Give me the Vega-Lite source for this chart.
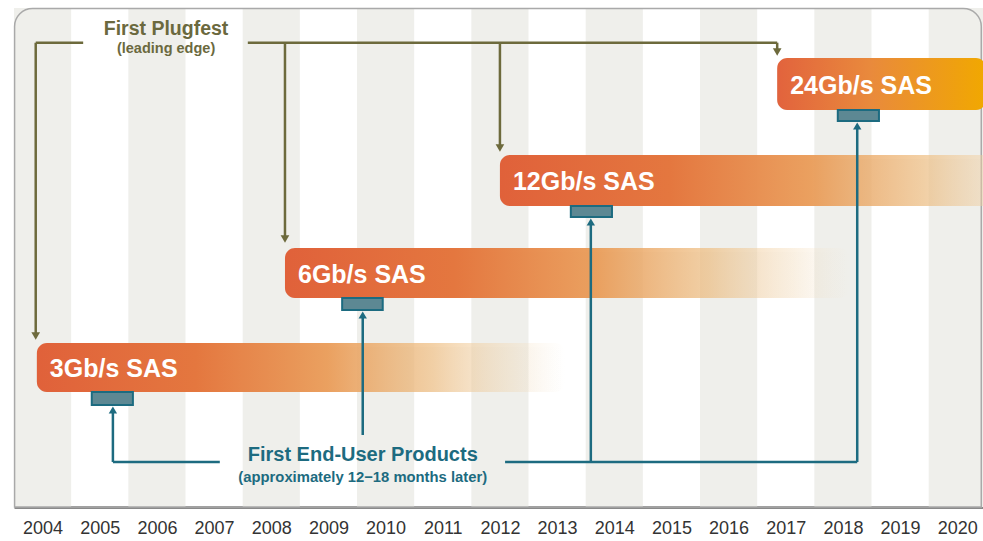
{
  "$schema": "https://vega.github.io/schema/vega-lite/v6.json",
  "width": 969,
  "height": 499,
  "autosize": {"type": "none"},
  "padding": {"left": 14, "top": 8, "right": 0, "bottom": 34},
  "background": "white",
  "config": {"view": {"stroke": null}, "font": "Liberation Sans"},
  "datasets": {
    "stripes": [
      {"year": 2004, "from": 2003.5, "to": 2004.5},
      {"year": 2006, "from": 2005.5, "to": 2006.5},
      {"year": 2008, "from": 2007.5, "to": 2008.5},
      {"year": 2010, "from": 2009.5, "to": 2010.5},
      {"year": 2012, "from": 2011.5, "to": 2012.5},
      {"year": 2014, "from": 2013.5, "to": 2014.5},
      {"year": 2016, "from": 2015.5, "to": 2016.5},
      {"year": 2018, "from": 2017.5, "to": 2018.5},
      {"year": 2020, "from": 2019.5, "to": 2020.5}
    ],
    "fading": [
      {"name": "3Gb/s SAS", "start": 2003.9, "end": 2013.14, "top": 335, "bottom": 384, "mid": 361},
      {"name": "6Gb/s SAS", "start": 2008.24, "end": 2018.12, "top": 240, "bottom": 290, "mid": 267},
      {"name": "12Gb/s SAS", "start": 2012.0, "end": 2021.9, "top": 147, "bottom": 198, "mid": 174}
    ],
    "newest": [
      {"name": "24Gb/s SAS", "start": 2016.85, "end": 2020.5, "top": 50, "bottom": 102, "mid": 78}
    ],
    "tabs": [
      {"speed": "3Gb/s", "start": 2004.86, "end": 2005.58, "top": 384, "bottom": 397},
      {"speed": "6Gb/s", "start": 2009.24, "end": 2009.95, "top": 290, "bottom": 302},
      {"speed": "12Gb/s", "start": 2013.24, "end": 2013.96, "top": 198, "bottom": 209},
      {"speed": "24Gb/s", "start": 2017.91, "end": 2018.63, "top": 102, "bottom": 113}
    ],
    "olive": [
      {"x0": 2003.88, "x1": 2004.71, "y0": 34.7, "y1": 34.7},
      {"x0": 2007.59, "x1": 2016.85, "y0": 34.7, "y1": 34.7},
      {"x0": 2003.88, "x1": 2003.88, "y0": 34.7, "y1": 326},
      {"x0": 2008.24, "x1": 2008.24, "y0": 34.7, "y1": 229},
      {"x0": 2012.0, "x1": 2012.0, "y0": 34.7, "y1": 138},
      {"x0": 2016.85, "x1": 2016.85, "y0": 34.7, "y1": 42}
    ],
    "oliveHeads": [
      {"x": 2003.88, "y": 328},
      {"x": 2008.24, "y": 231},
      {"x": 2012.0, "y": 140},
      {"x": 2016.85, "y": 44}
    ],
    "teal": [
      {"x0": 2005.23, "x1": 2007.1, "y0": 454, "y1": 454},
      {"x0": 2012.09, "x1": 2018.25, "y0": 454, "y1": 454},
      {"x0": 2005.23, "x1": 2005.23, "y0": 454, "y1": 403},
      {"x0": 2009.6, "x1": 2009.6, "y0": 427, "y1": 308},
      {"x0": 2013.59, "x1": 2013.59, "y0": 454, "y1": 215},
      {"x0": 2018.25, "x1": 2018.25, "y0": 454, "y1": 119}
    ],
    "tealHeads": [
      {"x": 2005.23, "y": 402},
      {"x": 2009.6, "y": 307},
      {"x": 2013.59, "y": 214},
      {"x": 2018.25, "y": 118}
    ],
    "oliveText": [
      {"label": "First Plugfest", "x": 2006.16, "y": 20.5}
    ],
    "oliveSub": [
      {"label": "(leading edge)", "x": 2006.16, "y": 41}
    ],
    "tealText": [
      {"label": "First End-User Products", "x": 2009.6, "y": 447}
    ],
    "tealSub": [
      {"label": "(approximately 12−18 months later)", "x": 2009.6, "y": 470}
    ]
  },
  "data": {"name": "stripes"},
  "layer": [
    {
      "data": {"name": "stripes"},
      "mark": {"type": "rect", "fill": "#efefeb", "clip": true},
      "encoding": {
        "x": {"field": "from", "type": "quantitative", "scale": {"domain": [2003.5, 2020.45], "nice": false, "zero": false},
              "axis": {"values": [2004,2005,2006,2007,2008,2009,2010,2011,2012,2013,2014,2015,2016,2017,2018,2019,2020], "format": "d", "title": null, "ticks": false, "grid": false, "labelFontSize": 18, "labelColor": "#333333", "labelPadding": 12, "domainColor": "#8a8a8a", "domainWidth": 3, "labelFlush": false, "labelOverlap": false}},
        "x2": {"field": "to"},
        "y": {"datum": 0, "type": "quantitative", "scale": {"domain": [0, 499], "reverse": true, "nice": false, "zero": false}, "axis": null},
        "y2": {"datum": 499}
      }
    },
    {
      "data": {"values": [{"frame": "outline"}]},
      "mark": {"type": "rect", "fill": null, "stroke": "#a9a9a9", "strokeWidth": 1.5, "cornerRadiusTopLeft": 18, "cornerRadiusTopRight": 18},
      "encoding": {
        "x": {"datum": 2003.51, "type": "quantitative"},
        "x2": {"datum": 2020.42},
        "y": {"datum": 0.5, "type": "quantitative"},
        "y2": {"datum": 499}
      }
    },
    {
      "data": {"name": "fading"},
      "mark": {"type": "rect", "clip": true, "cornerRadius": 10, "yOffset": 4, "fill": {"gradient": "linear", "x1": 0, "x2": 1, "y1": 0, "y2": 0, "stops": [
        {"offset": 0, "color": "rgba(120,120,120,0.25)"},
        {"offset": 0.6, "color": "rgba(150,150,150,0.12)"},
        {"offset": 1, "color": "rgba(180,180,180,0)"}]}},
      "encoding": {
        "x": {"field": "start", "type": "quantitative"},
        "x2": {"field": "end"},
        "y": {"field": "top", "type": "quantitative"},
        "y2": {"field": "bottom"}
      }
    },
    {
      "data": {"name": "newest"},
      "mark": {"type": "rect", "clip": true, "cornerRadius": 10, "yOffset": 4, "fill": "rgba(120,120,120,0.25)"},
      "encoding": {
        "x": {"field": "start", "type": "quantitative"},
        "x2": {"field": "end"},
        "y": {"field": "top", "type": "quantitative"},
        "y2": {"field": "bottom"}
      }
    },
    {
      "data": {"name": "fading"},
      "mark": {"type": "rect", "clip": true, "cornerRadius": 10, "fill": {"gradient": "linear", "x1": 0, "x2": 1, "y1": 0, "y2": 0, "stops": [
        {"offset": 0, "color": "#e0613a"},
        {"offset": 0.3, "color": "#e4773f"},
        {"offset": 0.55, "color": "rgba(234,156,88,0.95)"},
        {"offset": 0.75, "color": "rgba(238,190,130,0.7)"},
        {"offset": 0.9, "color": "rgba(243,215,175,0.35)"},
        {"offset": 1, "color": "rgba(246,228,200,0)"}]}},
      "encoding": {
        "x": {"field": "start", "type": "quantitative"},
        "x2": {"field": "end"},
        "y": {"field": "top", "type": "quantitative"},
        "y2": {"field": "bottom"}
      }
    },
    {
      "data": {"name": "newest"},
      "mark": {"type": "rect", "clip": true, "cornerRadius": 10, "fill": {"gradient": "linear", "x1": 0, "x2": 1, "y1": 0, "y2": 0, "stops": [
        {"offset": 0, "color": "#e2633d"},
        {"offset": 0.45, "color": "#e98a3c"},
        {"offset": 1, "color": "#f1a800"}]}},
      "encoding": {
        "x": {"field": "start", "type": "quantitative"},
        "x2": {"field": "end"},
        "y": {"field": "top", "type": "quantitative"},
        "y2": {"field": "bottom"}
      }
    },
    {
      "data": {"name": "fading"},
      "mark": {"type": "text", "align": "left", "baseline": "middle", "dx": 13, "fontSize": 25, "fontWeight": "bold", "fill": "white"},
      "encoding": {
        "x": {"field": "start", "type": "quantitative"},
        "y": {"field": "mid", "type": "quantitative"},
        "text": {"field": "name"}
      }
    },
    {
      "data": {"name": "newest"},
      "mark": {"type": "text", "align": "left", "baseline": "middle", "dx": 13, "fontSize": 25, "fontWeight": "bold", "fill": "white"},
      "encoding": {
        "x": {"field": "start", "type": "quantitative"},
        "y": {"field": "mid", "type": "quantitative"},
        "text": {"field": "name"}
      }
    },
    {
      "data": {"name": "tabs"},
      "mark": {"type": "rect", "fill": "#5d8893", "stroke": "#1c6b80", "strokeWidth": 2},
      "encoding": {
        "x": {"field": "start", "type": "quantitative"},
        "x2": {"field": "end"},
        "y": {"field": "top", "type": "quantitative"},
        "y2": {"field": "bottom"}
      }
    },
    {
      "data": {"name": "olive"},
      "mark": {"type": "rule", "stroke": "#6d6a3c", "strokeWidth": 2.5},
      "encoding": {
        "x": {"field": "x0", "type": "quantitative"},
        "x2": {"field": "x1"},
        "y": {"field": "y0", "type": "quantitative"},
        "y2": {"field": "y1"}
      }
    },
    {
      "data": {"name": "oliveHeads"},
      "mark": {"type": "point", "shape": "triangle-down", "filled": true, "fill": "#6d6a3c", "opacity": 1, "size": 75},
      "encoding": {
        "x": {"field": "x", "type": "quantitative"},
        "y": {"field": "y", "type": "quantitative"}
      }
    },
    {
      "data": {"name": "teal"},
      "mark": {"type": "rule", "stroke": "#1d6b80", "strokeWidth": 2.5},
      "encoding": {
        "x": {"field": "x0", "type": "quantitative"},
        "x2": {"field": "x1"},
        "y": {"field": "y0", "type": "quantitative"},
        "y2": {"field": "y1"}
      }
    },
    {
      "data": {"name": "tealHeads"},
      "mark": {"type": "point", "shape": "triangle-up", "filled": true, "fill": "#1d6b80", "opacity": 1, "size": 70},
      "encoding": {
        "x": {"field": "x", "type": "quantitative"},
        "y": {"field": "y", "type": "quantitative"}
      }
    },
    {
      "data": {"name": "oliveText"},
      "mark": {"type": "text", "align": "center", "baseline": "middle", "fontSize": 19.5, "fontWeight": "bold", "fill": "#6b693e"},
      "encoding": {
        "x": {"field": "x", "type": "quantitative"},
        "y": {"field": "y", "type": "quantitative"},
        "text": {"field": "label"}
      }
    },
    {
      "data": {"name": "oliveSub"},
      "mark": {"type": "text", "align": "center", "baseline": "middle", "fontSize": 14.5, "fontWeight": "bold", "fill": "#6b693e"},
      "encoding": {
        "x": {"field": "x", "type": "quantitative"},
        "y": {"field": "y", "type": "quantitative"},
        "text": {"field": "label"}
      }
    },
    {
      "data": {"name": "tealText"},
      "mark": {"type": "text", "align": "center", "baseline": "middle", "fontSize": 20, "fontWeight": "bold", "fill": "#1d6b80"},
      "encoding": {
        "x": {"field": "x", "type": "quantitative"},
        "y": {"field": "y", "type": "quantitative"},
        "text": {"field": "label"}
      }
    },
    {
      "data": {"name": "tealSub"},
      "mark": {"type": "text", "align": "center", "baseline": "middle", "fontSize": 14.8, "fontWeight": "bold", "fill": "#1d6b80"},
      "encoding": {
        "x": {"field": "x", "type": "quantitative"},
        "y": {"field": "y", "type": "quantitative"},
        "text": {"field": "label"}
      }
    }
  ]
}
